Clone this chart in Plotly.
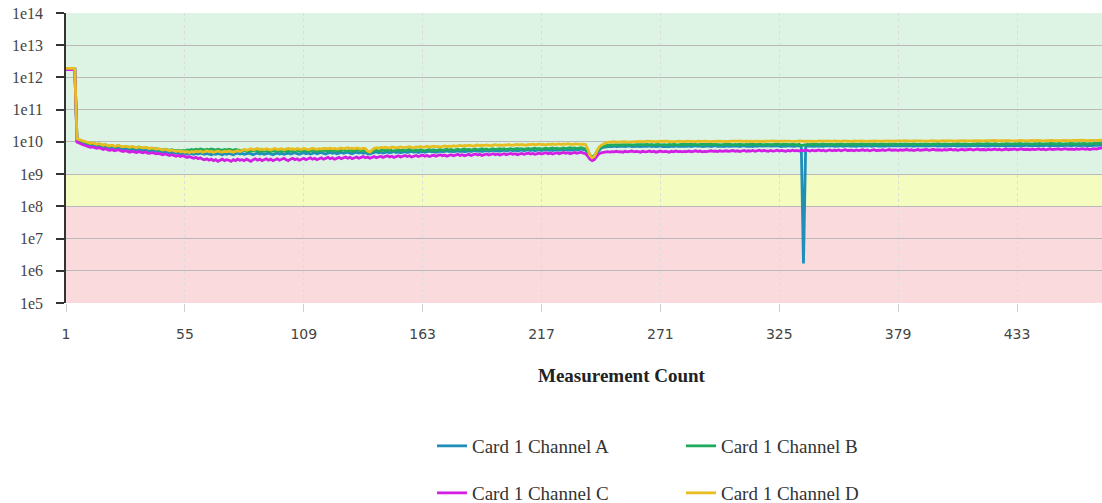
import plotly.graph_objects as go

chan_a = [
1800,1800,1800,1800,1800,10.5,9.8,9.3,9.0,8.6,8.3,8.0,8.2,7.6,7.4,7.7,7.1,6.9,7.2,6.7,
6.6,6.9,6.3,6.5,6.8,6.2,6.0,6.3,5.9,5.7,6.0,5.8,5.5,5.9,5.6,5.4,5.7,5.3,5.2,5.5,
5.3,5.1,5.2,4.9,4.8,5.0,4.7,4.6,4.8,4.5,4.4,4.6,4.3,4.5,4.4,4.2,4.5,4.3,4.1,4.4,
4.2,4.5,4.3,4.1,4.4,4.2,4.0,4.3,4.1,4.4,4.2,4.0,4.3,4.1,4.4,4.2,4.0,4.3,4.5,4.2,
4.4,4.1,4.3,4.5,4.2,4.0,4.3,4.5,4.2,4.4,4.1,4.3,4.5,4.2,4.0,4.3,4.5,4.2,4.4,4.1,
4.3,4.5,4.2,4.4,4.6,4.3,4.1,4.4,4.6,4.3,4.5,4.2,4.4,4.6,4.3,4.5,4.7,4.4,4.2,4.5,
4.7,4.4,4.6,4.3,4.5,4.7,4.4,4.6,4.8,4.5,4.3,4.6,4.8,4.5,4.7,4.4,4.6,4.3,4.2,4.5,
4.7,4.9,4.6,4.8,4.5,4.7,4.9,4.6,4.8,5.0,4.7,4.9,4.6,4.8,5.0,4.7,4.9,5.1,4.8,5.0,
4.7,4.9,5.1,4.8,5.0,5.2,4.9,5.1,4.8,5.0,5.2,4.9,5.1,5.3,5.0,5.2,4.9,5.1,5.3,5.0,
5.2,4.9,5.1,5.3,5.0,5.2,5.4,5.1,5.3,5.0,5.2,5.4,5.1,5.3,5.5,5.2,5.4,5.1,5.3,5.5,
5.2,5.4,5.6,5.3,5.5,5.2,5.4,5.6,5.3,5.5,5.7,5.4,5.6,5.3,5.5,5.7,5.4,5.6,5.8,5.5,
5.7,5.4,5.6,5.8,5.5,5.7,5.9,5.6,5.8,5.5,5.7,5.9,5.6,5.8,6.0,5.7,5.5,4.6,3.6,3.2,
3.4,4.4,5.5,6.3,6.8,7.0,7.2,7.3,7.1,7.4,7.2,7.3,7.1,7.4,7.2,7.3,7.5,7.2,7.4,7.3,
7.3,7.1,7.4,7.2,7.3,7.5,7.2,7.4,7.1,7.3,7.5,7.2,7.4,7.3,7.1,7.4,7.2,7.5,7.3,7.4,
7.2,7.4,7.3,7.5,7.2,7.4,7.6,7.3,7.5,7.2,7.4,7.3,7.5,7.2,7.4,7.6,7.3,7.5,7.4,7.2,
7.5,7.3,7.4,7.6,7.3,7.5,7.2,7.4,7.6,7.3,7.5,7.4,7.2,7.5,7.3,7.6,7.4,7.5,7.3,7.6,
7.4,7.5,7.3,7.6,7.4,7.2,7.5,7.3,7.6,7.4,7.5,7.3,7.6,7.4,7.2,0.0017,7.3,7.5,7.4,7.6,
7.3,7.5,7.4,7.6,7.3,7.5,7.7,7.4,7.6,7.3,7.5,7.4,7.6,7.3,7.5,7.7,7.4,7.6,7.5,7.3,
7.6,7.4,7.5,7.7,7.4,7.6,7.3,7.5,7.7,7.4,7.6,7.5,7.3,7.6,7.4,7.7,7.5,7.6,7.4,7.7,
7.5,7.6,7.4,7.7,7.5,7.3,7.6,7.4,7.7,7.5,7.6,7.4,7.7,7.5,7.8,7.6,7.4,7.7,7.5,7.6,
7.4,7.7,7.5,7.8,7.6,7.4,7.7,7.5,7.6,7.4,7.7,7.5,7.8,7.6,7.7,7.5,7.8,7.6,7.4,7.7,
7.5,7.8,7.6,7.7,7.5,7.8,7.6,7.4,7.7,7.5,7.8,7.6,7.7,7.5,7.8,7.6,7.9,7.7,7.5,7.8,
7.6,7.7,7.5,7.8,7.6,7.9,7.7,7.5,7.8,7.6,7.7,7.5,7.8,7.6,7.9,7.7,7.8,7.6,7.9,7.7,
7.8,7.6,7.9,7.7,7.5,7.8,7.6,7.9,7.7,7.8,8.0,8.1,
]

chan_b = [
1850,1850,1850,1850,1850,11.8,11.0,10.4,10.0,9.7,9.3,8.9,9.1,8.5,8.2,8.6,8.0,7.8,8.1,7.5,
7.4,7.7,7.1,7.3,7.6,7.0,6.9,7.2,6.9,6.7,7.0,6.8,6.5,6.9,6.6,6.4,6.7,6.3,6.2,6.4,
6.2,6.0,6.1,5.8,5.7,5.9,5.6,5.5,5.7,5.4,5.3,5.5,5.2,5.4,5.3,5.6,5.5,5.8,5.6,5.9,
5.7,6.0,5.8,5.6,5.9,5.7,6.0,5.8,5.6,5.9,5.7,5.5,5.8,5.6,5.9,5.7,5.5,5.8,5.6,5.4,
5.3,5.5,5.2,5.4,5.1,5.3,5.5,5.2,5.0,5.3,5.1,5.4,5.2,5.0,5.3,5.1,5.4,5.2,5.0,5.3,
5.1,5.4,5.2,5.0,5.3,5.5,5.2,5.1,5.4,5.2,5.0,5.3,5.5,5.2,5.1,5.4,5.2,5.5,5.3,5.1,
5.4,5.2,5.5,5.3,5.1,5.4,5.6,5.3,5.2,5.5,5.3,5.1,5.4,5.6,5.3,5.5,5.2,4.9,4.8,5.1,
5.3,5.5,5.2,5.4,5.6,5.3,5.5,5.7,5.4,5.2,5.5,5.7,5.4,5.6,5.3,5.5,5.8,5.5,5.3,5.6,
5.4,5.7,5.5,5.3,5.6,5.8,5.5,5.7,5.4,5.6,5.8,5.5,5.7,5.9,5.6,5.8,5.5,5.7,5.9,5.6,
5.8,6.0,5.7,5.9,5.6,5.8,6.0,5.7,5.9,6.1,5.8,6.0,5.7,5.9,6.1,5.8,6.0,6.2,5.9,6.1,
5.8,6.0,6.2,5.9,6.1,6.3,6.0,6.2,5.9,6.1,6.3,6.0,6.2,6.4,6.1,6.3,6.0,6.2,6.4,6.1,
6.3,6.5,6.2,6.4,6.1,6.3,6.5,6.2,6.4,6.6,6.3,6.5,6.2,6.4,6.6,6.3,6.1,5.0,3.9,3.4,
3.7,4.8,6.0,6.8,7.3,7.6,7.8,8.0,8.1,7.9,8.2,8.0,8.1,7.9,8.2,8.0,8.2,8.1,7.9,8.2,
8.1,8.3,8.0,8.2,8.4,8.1,8.3,8.0,8.2,8.4,8.1,8.3,8.2,8.0,8.3,8.1,8.4,8.2,8.0,8.3,
8.2,8.4,8.1,8.3,8.5,8.2,8.4,8.1,8.3,8.2,8.4,8.1,8.3,8.5,8.2,8.4,8.2,8.3,8.1,8.4,
8.2,8.4,8.3,8.1,8.4,8.2,8.5,8.3,8.1,8.4,8.2,8.5,8.3,8.4,8.2,8.5,8.3,8.1,8.4,8.3,
8.4,8.2,8.5,8.3,8.4,8.2,8.5,8.3,8.4,8.2,8.5,8.3,8.1,8.4,7.6,7.9,8.3,8.4,8.2,8.5,
8.3,8.5,8.2,8.4,8.6,8.3,8.5,8.3,8.4,8.2,8.5,8.3,8.6,8.4,8.2,8.5,8.3,8.6,8.4,8.5,
8.3,8.6,8.4,8.5,8.3,8.6,8.4,8.7,8.5,8.3,8.6,8.4,8.5,8.3,8.6,8.4,8.7,8.5,8.4,8.6,
8.4,8.7,8.5,8.6,8.4,8.7,8.5,8.3,8.6,8.4,8.7,8.5,8.6,8.4,8.7,8.5,8.8,8.6,8.4,8.7,
8.5,8.6,8.4,8.7,8.5,8.8,8.6,8.4,8.7,8.5,8.6,8.4,8.7,8.5,8.8,8.6,8.7,8.5,8.8,8.6,
8.7,8.5,8.8,8.6,8.4,8.7,8.5,8.8,8.6,8.7,8.5,8.8,8.6,8.9,8.7,8.5,8.8,8.6,8.7,8.5,
8.8,8.6,8.9,8.7,8.5,8.8,8.6,8.9,8.7,8.8,8.6,8.9,8.7,8.5,8.8,8.6,8.9,8.7,8.8,8.6,
8.9,8.7,9.0,8.8,8.6,8.9,8.7,9.0,8.8,8.9,9.1,9.2,
]

chan_c = [
1750,1750,1750,1750,1750,9.8,9.0,8.4,8.0,7.6,7.2,6.8,7.0,6.5,6.3,6.6,6.1,5.8,6.2,5.6,
5.5,5.8,5.3,5.5,5.7,5.2,5.0,5.3,4.9,4.8,5.1,4.9,4.7,5.0,4.8,4.6,4.9,4.5,4.4,4.7,
4.5,4.3,4.4,4.1,4.0,4.2,3.9,3.8,4.0,3.7,3.6,3.8,3.5,3.7,3.4,3.3,3.5,3.2,3.1,3.3,
3.0,3.2,2.9,2.8,3.0,2.7,2.9,2.6,2.8,2.5,2.7,2.9,2.6,2.8,2.7,2.5,2.8,2.6,2.9,2.7,
2.8,2.6,2.9,2.7,2.5,2.8,3.0,2.7,2.9,2.6,2.8,3.0,2.7,2.9,2.6,2.8,3.0,2.7,2.9,3.1,
2.8,2.6,2.9,3.1,2.8,3.0,2.7,2.9,3.1,2.8,3.0,3.2,2.9,3.1,2.8,3.0,3.2,2.9,3.1,3.3,
3.0,3.2,2.9,3.1,3.3,3.0,3.2,3.4,3.1,3.3,3.0,3.2,3.4,3.1,3.3,3.5,3.2,3.4,3.1,3.3,
3.5,3.2,3.4,3.6,3.3,3.5,3.7,3.4,3.6,3.3,3.5,3.7,3.4,3.6,3.8,3.5,3.7,3.4,3.6,3.8,
3.5,3.7,3.9,3.6,3.8,3.5,3.7,3.9,3.6,3.8,4.0,3.7,3.9,3.6,3.8,4.0,3.7,3.9,4.1,3.8,
4.0,3.7,3.9,4.1,3.8,4.0,4.2,3.9,4.1,3.8,4.0,4.2,3.9,4.1,4.3,4.0,4.2,3.9,4.1,4.3,
4.0,4.2,4.4,4.1,4.3,4.0,4.2,4.4,4.1,4.3,4.5,4.2,4.4,4.1,4.3,4.5,4.2,4.4,4.6,4.3,
4.5,4.2,4.4,4.6,4.3,4.5,4.7,4.4,4.6,4.3,4.5,4.7,4.4,4.6,4.8,4.5,4.3,3.6,2.9,2.6,
2.8,3.5,4.2,4.6,4.8,4.9,5.0,4.8,5.0,4.9,5.1,4.9,5.0,4.8,5.1,4.9,5.0,5.2,4.9,5.1,
5.0,4.8,5.1,4.9,5.0,5.2,4.9,5.1,4.8,5.0,5.2,4.9,5.1,5.0,4.8,5.1,4.9,5.2,5.0,5.1,
4.9,5.1,5.0,5.2,4.9,5.1,5.3,5.0,5.2,4.9,5.1,5.0,5.2,5.3,5.1,5.2,5.0,5.3,5.1,5.2,
5.3,5.1,5.2,5.4,5.1,5.3,5.0,5.2,5.4,5.1,5.3,5.2,5.4,5.1,5.3,5.5,5.2,5.4,5.3,5.1,
5.4,5.2,5.3,5.5,5.2,5.4,5.3,5.1,5.4,5.2,5.5,5.3,5.4,5.2,5.5,5.3,5.6,5.4,5.2,5.5,
5.3,5.4,5.6,5.3,5.5,5.2,5.4,5.6,5.3,5.5,5.4,5.6,5.3,5.5,5.7,5.4,5.6,5.5,5.3,5.6,
5.4,5.5,5.7,5.4,5.6,5.3,5.5,5.7,5.4,5.6,5.5,5.7,5.4,5.6,5.8,5.5,5.7,5.6,5.4,5.7,
5.5,5.6,5.8,5.5,5.7,5.4,5.6,5.8,5.5,5.7,5.6,5.8,5.5,5.7,5.9,5.6,5.8,5.7,5.5,5.8,
5.6,5.7,5.9,5.6,5.8,5.5,5.7,5.9,5.6,5.8,5.7,5.9,5.6,5.8,6.0,5.7,5.9,5.8,5.6,5.9,
5.7,5.8,6.0,5.7,5.9,5.6,5.8,6.0,5.7,5.9,5.8,6.0,5.7,5.9,6.1,5.8,6.0,5.9,5.7,6.0,
5.8,5.9,6.1,5.8,6.0,5.7,5.9,6.1,5.8,6.0,5.9,6.1,5.8,6.0,6.2,5.9,6.1,6.0,5.8,6.1,
5.9,6.0,6.2,5.9,6.1,5.8,6.0,6.2,6.0,6.3,6.5,6.7,
]

chan_d = [
1900,1900,1900,1900,1900,12.5,11.6,11.0,10.6,10.1,9.6,9.1,9.3,8.7,8.4,8.8,8.2,7.9,8.3,7.7,
7.6,7.9,7.3,7.5,7.8,7.2,7.0,7.4,7.1,6.8,7.2,6.9,6.6,7.0,6.7,6.5,6.8,6.4,6.2,6.5,
6.3,6.0,6.2,5.8,5.6,5.9,5.5,5.3,5.6,5.2,5.0,5.3,4.9,5.1,4.8,5.0,4.7,5.0,4.8,5.1,
4.9,5.2,4.8,5.0,5.3,4.9,5.1,4.7,5.0,5.2,4.9,4.8,5.1,4.9,5.2,5.0,4.8,5.1,5.3,5.0,
5.6,5.9,5.5,5.8,6.1,5.7,5.9,6.2,5.8,6.0,5.7,6.1,5.9,5.6,6.0,6.2,5.8,5.9,6.1,5.7,
6.0,6.3,5.9,6.1,5.8,6.2,6.0,5.9,6.3,6.1,5.8,6.0,6.4,6.1,5.9,6.2,6.0,6.3,6.1,6.2,
6.4,6.1,6.3,6.0,6.2,6.5,6.1,6.3,6.6,6.2,6.4,6.1,6.5,6.3,6.0,6.4,6.2,5.2,4.8,5.6,
6.3,6.6,6.4,6.7,6.5,6.8,6.6,6.4,6.9,6.7,6.5,6.8,7.0,6.7,6.6,6.9,7.1,6.8,6.6,7.0,
6.9,7.2,6.8,7.0,7.3,6.9,7.1,7.4,7.0,7.2,6.9,7.3,7.5,7.1,7.4,7.2,7.6,7.3,7.5,7.8,
7.4,7.7,7.5,7.9,7.6,7.3,7.8,8.0,7.6,7.9,7.7,8.1,7.8,7.5,7.9,8.2,7.8,8.0,7.7,8.1,
7.9,8.3,8.0,7.8,8.2,8.4,8.0,8.3,8.1,7.9,8.4,8.2,8.5,8.1,8.3,8.6,8.2,8.4,8.0,8.5,
8.3,8.6,8.2,8.5,8.7,8.3,8.6,8.4,8.8,8.5,8.3,8.7,8.5,8.6,8.4,8.5,8.3,6.0,3.8,3.2,
3.5,5.0,6.8,7.8,8.6,9.2,9.6,9.9,10.0,10.2,9.9,10.1,10.3,10.0,10.2,9.9,10.1,10.3,10.0,10.2,
10.3,10.1,10.4,10.2,10.5,10.3,10.1,10.4,10.2,10.3,10.5,10.2,10.4,10.6,10.3,10.1,10.4,10.2,10.5,10.3,
10.4,10.2,10.5,10.3,10.6,10.4,10.2,10.5,10.3,10.4,10.6,10.3,10.5,10.2,10.4,10.6,10.3,10.5,10.4,10.2,
10.5,10.3,10.6,10.4,10.2,10.5,10.7,10.4,10.3,10.6,10.4,10.5,10.3,10.6,10.4,10.7,10.5,10.3,10.6,10.4,
10.5,10.7,10.4,10.6,10.3,10.5,10.7,10.4,10.6,10.5,10.3,10.6,10.4,10.7,10.5,10.2,10.4,10.6,10.5,10.3,
10.6,10.4,10.7,10.5,10.3,10.6,10.8,10.5,10.4,10.7,10.5,10.6,10.4,10.7,10.5,10.8,10.6,10.4,10.7,10.5,
10.6,10.8,10.5,10.7,10.4,10.6,10.8,10.5,10.7,10.6,10.4,10.7,10.5,10.8,10.6,10.9,10.7,10.5,10.8,10.6,
10.7,10.9,10.6,10.8,10.5,10.7,10.9,10.6,10.8,10.7,10.5,10.8,10.6,10.9,10.7,11.0,10.8,10.6,10.9,10.7,
10.8,11.0,10.7,10.9,10.6,10.8,11.0,10.7,10.9,10.8,10.6,10.9,10.7,11.0,10.8,11.1,10.9,10.7,11.0,10.8,
10.9,11.1,10.8,11.0,10.7,10.9,11.1,10.8,11.0,10.9,10.7,11.0,10.8,11.1,10.9,11.2,11.0,10.8,11.1,10.9,
11.0,11.2,10.9,11.1,10.8,11.0,11.2,10.9,11.1,11.0,10.8,11.1,10.9,11.2,11.0,11.3,11.1,10.9,11.2,11.0,
11.1,11.3,11.0,11.2,10.9,11.1,11.3,11.0,11.2,11.1,11.3,11.4,
]

series_names = ["Card 1 Channel A", "Card 1 Channel B", "Card 1 Channel C", "Card 1 Channel D"]
series_colors = ["#1f8fb9", "#1fab5b", "#d21fe4", "#e6be22"]
series_values = [chan_a, chan_b, chan_c, chan_d]
series_legends = ["legend", "legend", "legend2", "legend2"]

x_tick_vals = [1, 55, 109, 163, 217, 271, 325, 379, 433]
y_tick_vals = [1e5, 1e6, 1e7, 1e8, 1e9, 1e10, 1e11, 1e12, 1e13, 1e14]
y_tick_text = ["1e5", "1e6", "1e7", "1e8", "1e9", "1e10", "1e11", "1e12", "1e13", "1e14"]

bands = [  # (low, high, colour)
    (1e9, 1e14, "#ddf4e4"),
    (1e8, 1e9, "#f4fcbf"),
    (1e5, 1e8, "#fadadc"),
]

fig = go.Figure()
for name, color, vals, lg in zip(series_names, series_colors, series_values, series_legends):
    fig.add_trace(go.Scatter(
        x=list(range(1, len(vals) + 1)),
        y=[v * 1e9 for v in vals],
        mode="lines",
        name=name,
        line=dict(color=color, width=2.8),
        legend=lg,
    ))

for lo, hi, col in bands:
    fig.add_shape(type="rect", xref="paper", yref="y", x0=0, x1=1, y0=lo, y1=hi,
                  fillcolor=col, line=dict(width=0), layer="below")

W, H = 1102, 503
L, T, B = 66, 13, 200
legend_common = dict(
    orientation="h", entrywidth=204, entrywidthmode="pixels",
    x=(432 - L) / (W - L), xanchor="left", yref="container", yanchor="middle",
    font=dict(family="Liberation Serif", size=19, color="#333"),
    bgcolor="rgba(0,0,0,0)",
)
fig.update_layout(
    width=W, height=H, autosize=False,
    margin=dict(l=L, r=0, t=T, b=B, pad=0),
    plot_bgcolor="white", paper_bgcolor="white",
    showlegend=True,
    font=dict(family="Liberation Serif", color="#333"),
    xaxis=dict(
        range=[1, 471.6], tickvals=x_tick_vals, ticktext=[str(v) for v in x_tick_vals],
        showgrid=True, gridcolor="#dcdcdc", griddash="dot", gridwidth=1,
        zeroline=False, showline=False,
        ticks="outside", ticklen=8, tickcolor="#cfcfcf", tickwidth=1,
        tickfont=dict(family="DejaVu Sans", size=14, color="#444"),
        ticklabelstandoff=10,
    ),
    yaxis=dict(
        type="log", range=[5, 14], tickvals=y_tick_vals, ticktext=y_tick_text,
        showgrid=True, gridcolor="#b9b9b9", gridwidth=1,
        zeroline=False, showline=True, linecolor="#333", linewidth=1.5,
        ticks="outside", ticklen=8, tickcolor="#333", tickwidth=1.5,
        tickfont=dict(family="Liberation Serif", size=16, color="#444"),
        ticklabelstandoff=10,
    ),
    legend=dict(legend_common, y=1 - 446 / H),
    legend2=dict(legend_common, y=1 - 493 / H),
    annotations=[dict(
        text="<b>Measurement Count</b>", xref="paper", yref="paper",
        x=(622 - L) / (W - L), y=-(375 - 303) / (303 - T),
        xanchor="center", yanchor="middle", showarrow=False,
        font=dict(family="Liberation Serif", size=19, color="#222"),
    )],
)

fig.write_html("out.html")
